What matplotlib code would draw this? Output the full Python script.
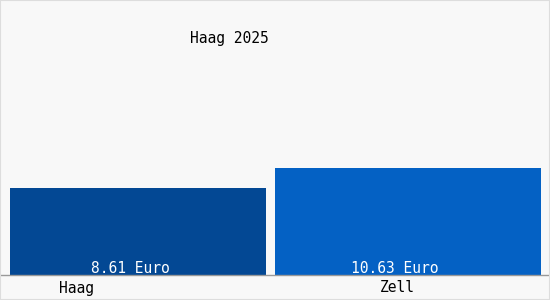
import matplotlib
matplotlib.use('Agg')
import matplotlib.pyplot as plt
import matplotlib.transforms as mtransforms

# Daten
orte = ['Haag', 'Zell']
werte = [8.61, 10.63]
beschriftung = ['8.61 Euro', '10.63 Euro']
farben = ['#034894', '#0461c4']
titel = 'Haag 2025'

fig = plt.figure(figsize=(5.5, 3.0), dpi=100, facecolor='#f8f8f8')
ax = fig.add_axes([0, 25 / 300, 549 / 550, 275 / 300])
ax.set_facecolor('#f8f8f8')

pos = list(range(len(orte)))
ax.bar(pos, werte, width=[0.948, 0.985], color=farben)
ax.set_xlim(-0.511, 1.522)
ax.set_ylim(0, 10.63 * 275 / 107)

for s in ['top', 'right', 'left']:
    ax.spines[s].set_visible(False)
ax.spines['bottom'].set_color('#999999')
ax.spines['bottom'].set_linewidth(1)
ax.set_xticks([])
ax.set_yticks([])

mono = 'DejaVu Sans Mono'

# Werte in den Balken
for p, txt, off in zip(pos, beschriftung, [-0.03, -0.05]):
    ax.text(p + off, 0.2, txt, ha='center', va='baseline', color='white',
            fontsize=10.5, family=mono)

# Ortsnamen unter der Achse
trans = mtransforms.blended_transform_factory(ax.transData, fig.transFigure)
for p, name, off in zip(pos, orte, [-0.226, -0.041]):
    ax.text(p + off, 12 / 300, name, ha='center', va='center', color='black',
            fontsize=10.5, family=mono, transform=trans)

fig.text(229 / 550, 1 - 38 / 300, titel, ha='center', va='center',
         fontsize=10.5, family=mono, color='black')

# Rahmen
rahmen = plt.Rectangle((0, 0), 1, 1, transform=fig.transFigure, fill=False,
                       edgecolor='#dddddd', linewidth=1.5)
fig.patches.append(rahmen)

fig.savefig('out.png', dpi=100, facecolor=fig.get_facecolor())
